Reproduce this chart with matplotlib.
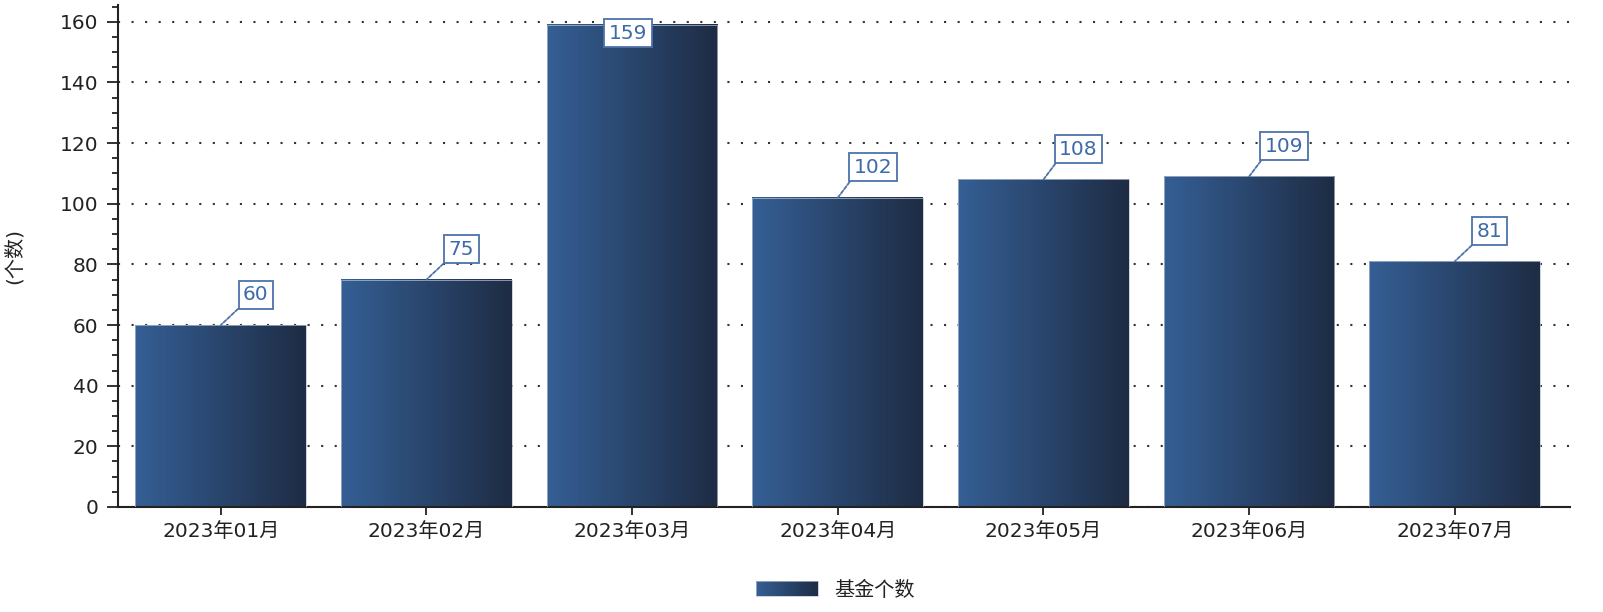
import numpy as np
import matplotlib
matplotlib.use('Agg')
import matplotlib.pyplot as plt
from matplotlib.colors import LinearSegmentedColormap, to_rgb
from matplotlib.patches import Rectangle
from matplotlib.legend_handler import HandlerBase
from matplotlib.ticker import MultipleLocator

plt.rcParams['font.family'] = ['DejaVu Sans', 'Noto Sans CJK SC']

months = ['2023年01月', '2023年02月', '2023年03月', '2023年04月',
          '2023年05月', '2023年06月', '2023年07月']
counts = [60, 75, 159, 102, 108, 109, 81]
series_name = '基金个数'
y_label = '(个数)'

c_left = '#355f95'
c_right = '#1e2c44'
label_blue = '#3d6aa8'
cmap = LinearSegmentedColormap.from_list('bar', [c_left, c_right])

fig = plt.figure(figsize=(16.03, 6.12), dpi=100)
ax = fig.add_axes([0.0736, 0.1716, 0.9058, 0.820])

x = np.arange(len(months))
bw = 0.83
bars = ax.bar(x, counts, width=bw, color='none', edgecolor='#b8c2d0', linewidth=0.5, zorder=3)
grad = np.linspace(0, 1, 256).reshape(1, -1)
for b in bars:
    x0, w, h = b.get_x(), b.get_width(), b.get_height()
    ax.imshow(grad, cmap=cmap, extent=(x0, x0 + w, 0, h), aspect='auto',
              interpolation='bilinear', zorder=2)

ax.set_xlim(-0.5, len(months) - 0.44)
ax.set_ylim(0, 165.5)
ax.set_xticks(x)
ax.set_xticklabels(months)
ax.yaxis.set_major_locator(MultipleLocator(20))
ax.yaxis.set_minor_locator(MultipleLocator(5))
ax.tick_params(axis='both', labelsize=14.5, colors='#222222')
ax.tick_params(axis='y', which='major', length=8, width=1.3, direction='out', pad=6)
ax.tick_params(axis='y', which='minor', length=4, width=1.3, color='#222222')
ax.tick_params(axis='x', length=6, width=1.3, pad=5)
for s in ['top', 'right']:
    ax.spines[s].set_visible(False)
for s in ['left', 'bottom']:
    ax.spines[s].set_color('#222222')
    ax.spines[s].set_linewidth(1.5)
ax.set_axisbelow(True)
ax.yaxis.grid(True, which='major', color='#333333', linestyle=(0, (1, 5.5)), linewidth=1.5, zorder=0)
ax.set_ylabel(y_label, fontsize=14.5, color='#222222', labelpad=26)

# value labels
box = dict(boxstyle='square,pad=0.22', fc='white', ec='#4d72aa', lw=1.3)
for xi, v in zip(x, counts):
    if v + 9.3 > 160:
        ax.text(xi - 0.02, v - 2.8, str(v), ha='center', va='center', fontsize=14.5,
                color=label_blue, zorder=5, bbox=box)
    else:
        ax.annotate(str(v), xy=(xi, v), xytext=(xi + 0.17, v + 10), ha='center', va='center',
                    fontsize=14.5, color=label_blue, zorder=5, bbox=box,
                    arrowprops=dict(arrowstyle='-', color='#4d72aa', lw=1.3, relpos=(0, 0),
                                    linestyle=(0, (2, 1)), shrinkA=0, shrinkB=0))


class GradHandler(HandlerBase):
    def create_artists(self, legend, orig_handle, xdescent, ydescent, width, height, fontsize, trans):
        n = 40
        a, b = np.array(to_rgb(c_left)), np.array(to_rgb(c_right))
        arts = []
        for k in range(n):
            col = a + (b - a) * k / (n - 1)
            r = Rectangle((xdescent + width * k / n, -ydescent), width / n + 0.3, height,
                          fc=col, ec='none', transform=trans)
            arts.append(r)
        arts.append(Rectangle((-xdescent, -ydescent), width, height, fc='none',
                              ec='#b8c2d0', lw=0.5, transform=trans))
        return arts


handle = Rectangle((0, 0), 1, 1)
fig.legend([handle], [series_name], handler_map={Rectangle: GradHandler()},
           loc='center', bbox_to_anchor=(0.521, 0.036), frameon=False, fontsize=14.5,
           handlelength=3.1, handleheight=0.72, handletextpad=0.8, labelcolor='#222222')

fig.savefig('out.png', dpi=100)
